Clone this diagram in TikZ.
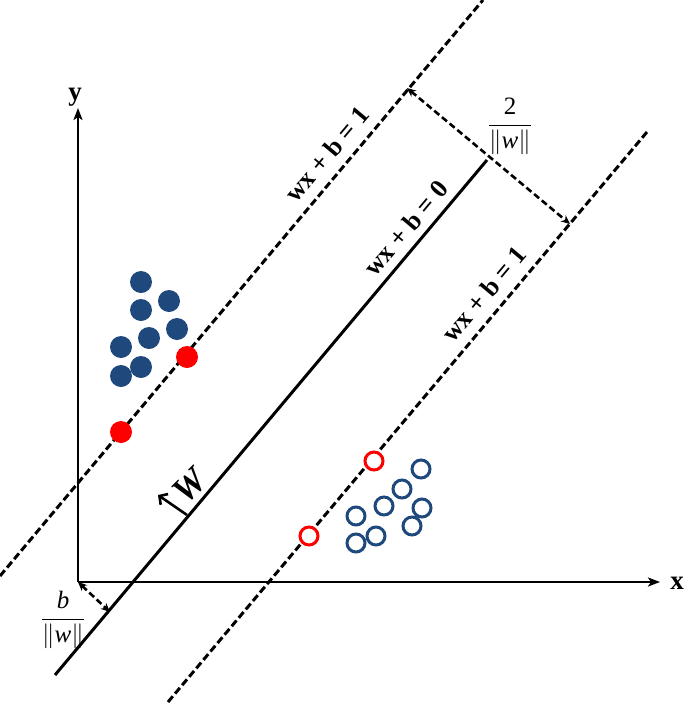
\documentclass[tikz,border=0pt]{standalone}
\usepackage{fontspec}
\setmainfont{Liberation Serif}
\usetikzlibrary{arrows.meta}
\definecolor{dotblue}{HTML}{1F497D}
\definecolor{dotred}{HTML}{FF0000}
\begin{document}
\begin{tikzpicture}[x=1pt,y=-1pt,
  axis/.style={line width=2.6pt,-{Stealth[length=12pt,width=9pt,inset=3pt]}},
  margin/.style={line width=3pt,dash pattern=on 7.5pt off 3.5pt},
  hyper/.style={line width=3pt},
  measure/.style={line width=2.6pt,dash pattern=on 6.5pt off 3.5pt,
    {Stealth[length=9pt,width=8pt]}-{Stealth[length=9pt,width=8pt]}},
  normalarrow/.style={line width=2.6pt,-{Straight Barb[length=6pt,width=13pt]}},
  lbl/.style={font=\bfseries\fontsize{26}{28}\selectfont,rotate=50,inner sep=0pt},
  axlbl/.style={font=\bfseries\fontsize{27}{27}\selectfont,inner sep=0pt},
  fraclbl/.style={font=\fontsize{25}{30}\selectfont,inner sep=0pt},
  fullblue/.style={fill=dotblue},
  fullred/.style={fill=dotred},
  openblue/.style={draw=dotblue,line width=3pt},
  openred/.style={draw=dotred,fill=white,line width=3pt}
]
\useasboundingbox (0,0) rectangle (685,705);
% axes
\coordinate (O) at (78,582);
\coordinate (Ytip) at (78,108);
\coordinate (Xtip) at (660,582);
\draw[axis] (O) -- (Ytip);
\draw[axis] (O) -- (Xtip);
\node[axlbl] (ylab) at (75,97) {y};
\node[axlbl] (xlab) at (677,583) {x};
% hyperplanes
\coordinate (S1) at (55,675);
\coordinate (S2) at (487,160);
\coordinate (U1) at (0,576);
\coordinate (U2) at (483,0);
\coordinate (L1) at (168,702);
\coordinate (L2) at (647,132);
\draw[hyper] (S1) -- (S2);
\draw[margin] (U1) -- (U2);
\draw[margin] (L1) -- (L2);
% labels on lines
\node[lbl] (lup) at (327,154) {wx + b = 1};
\node[lbl] (lmid) at (406,228) {wx + b = 0};
\node[lbl] (llow) at (484,294) {wx + b = 1};
% margin measure
\coordinate (M1) at (407,88);
\coordinate (M2) at (570,224);
\draw[measure] (M1) -- (M2);
\node[fraclbl] (f2) at (510,126) {$\displaystyle\frac{\hbox{2}}{\|\hbox{\itshape w}\|}$};
% offset measure
\coordinate (B2) at (110,612);
\draw[measure] (O) -- (B2);
\node[fraclbl] (fb) at (63,620) {$\displaystyle\frac{\hbox{\itshape b}}{\|\hbox{\itshape w}\|}$};
% normal vector
\coordinate (W1) at (187,515);
\coordinate (W2) at (158,495);
\draw[normalarrow] (W1) -- (W2);
\node[font=\bfseries\itshape\fontsize{36}{36}\selectfont,rotate=45,inner sep=0pt] (wlab) at (190,486) {W};
% class 1
\foreach \p in {(141,282),(169,301),(141,310),(177,329),(149,338),(121,347),(141,367),(121,376)}
  \fill[fullblue] \p circle[radius=11pt];
\foreach \p in {(187,357),(121,432)}
  \fill[fullred] \p circle[radius=11pt];
% class 2
\foreach \p in {(421,469),(402,489),(384,506),(356,516),(422,508),(412,526),(376,536),(356,543)}
  \draw[openblue] \p circle[radius=9pt];
\foreach \p in {(374,461),(309,536)}
  \draw[openred] \p circle[radius=9pt];
\end{tikzpicture}
\end{document}
